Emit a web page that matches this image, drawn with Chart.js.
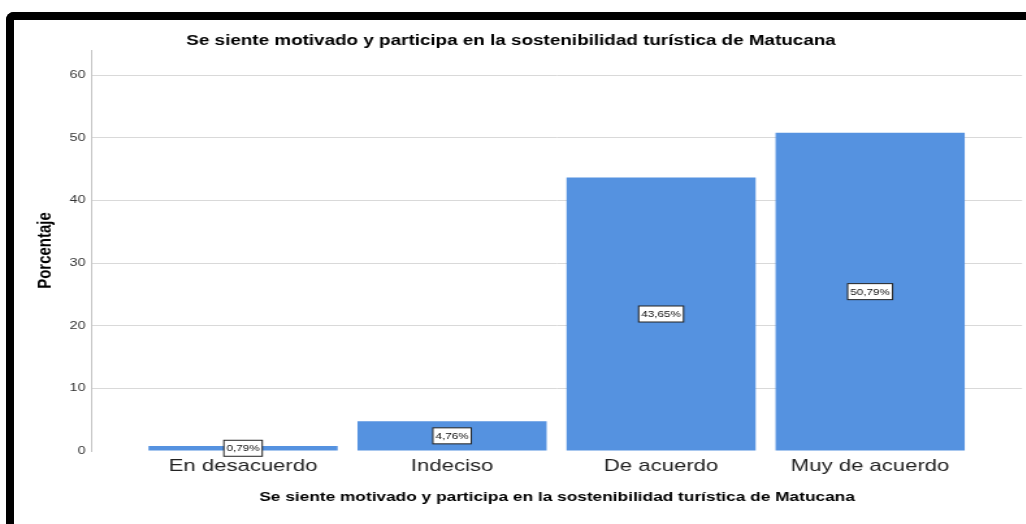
<!DOCTYPE html>
<html>
<head>
<meta charset="utf-8">
<script src="https://cdn.jsdelivr.net/npm/chart.js@4.4.1/dist/chart.umd.min.js"></script>
<style>
  html, body { margin: 0; padding: 0; background: #fff; overflow: hidden; }
  #marco {
    position: absolute; left: 6px; top: 12px; width: 1100px; height: 600px;
    border-left: 8px solid #000; border-top: 8px solid #000;
    border-top-left-radius: 8px;
  }
  /* el grafico original esta estirado en horizontal */
  #wrap {
    position: absolute; left: 0; top: 0; width: 789.23px; height: 524px;
    transform: scaleX(1.3); transform-origin: 0 0;
  }
</style>
</head>
<body>
<div id="marco"></div>
<div id="wrap"><canvas id="grafico"></canvas></div>
<script>
const categorias = ['En desacuerdo', 'Indeciso', 'De acuerdo', 'Muy de acuerdo'];
const porcentajes = [0.79, 4.76, 43.65, 50.79];
const ticksY = [0, 10, 20, 30, 40, 50, 60];
const titulo = 'Se siente motivado y participa en la sostenibilidad turística de Matucana';

const fuente = 'Liberation Sans, Arial, sans-serif';

const etiquetasBarras = {
    id: 'etiquetasBarras',
    afterDatasetsDraw(chart) {
        const ctx = chart.ctx;
        const meta = chart.getDatasetMeta(0);
        ctx.save();
        ctx.font = '9px ' + fuente;
        ctx.textAlign = 'center';
        ctx.textBaseline = 'middle';
        meta.data.forEach((bar, i) => {
            const p = bar.getProps(['x', 'y', 'base'], true);
            const cy = (p.y + p.base) / 2;
            const txt = porcentajes[i].toFixed(2).replace('.', ',') + '%';
            const w = ctx.measureText(txt).width + 4;
            const h = 16;
            ctx.fillStyle = '#fff';
            ctx.fillRect(p.x - w / 2, cy - h / 2, w, h);
            ctx.strokeStyle = '#222';
            ctx.lineWidth = 1;
            ctx.strokeRect(p.x - w / 2, cy - h / 2, w, h);
            ctx.fillStyle = '#111';
            ctx.fillText(txt, p.x, cy + 0.5);
        });
        ctx.restore();
    }
};

new Chart(document.getElementById('grafico'), {
    type: 'bar',
    data: {
        datasets: [{
            data: porcentajes.map((v, i) => ({ x: i, y: v })),
            backgroundColor: '#5592e0',
            borderWidth: 0,
            barPercentage: 0.905,
            categoryPercentage: 1
        }]
    },
    options: {
        responsive: true,
        maintainAspectRatio: false,
        animation: false,
        layout: { padding: { left: 0, right: 3, top: 0, bottom: 0 } },
        plugins: {
            legend: { display: false },
            tooltip: { enabled: false },
            title: {
                display: true,
                text: titulo,
                color: '#000',
                font: { family: fuente, size: 14.5, weight: 'bold' },
                padding: { top: 32, bottom: 0.6 }
            }
        },
        scales: {
            x: {
                type: 'linear',
                offset: false,
                min: -0.7225,
                max: 3.727,
                afterBuildTicks: s => { s.ticks = categorias.map((c, i) => ({ value: i })); },
                afterFit: s => { s.height = 73; },
                grid: { display: false, drawTicks: false, offset: false },
                border: { display: false },
                ticks: {
                    padding: 5,
                    color: '#222',
                    font: { family: fuente, size: 17 },
                    callback: v => categorias[v]
                },
                title: {
                    display: true,
                    text: titulo,
                    color: '#000',
                    font: { family: fuente, size: 13.3, weight: 'bold' },
                    padding: { top: 0, bottom: 19 }
                }
            },
            y: {
                min: 0,
                max: 64,
                afterBuildTicks: s => { s.ticks = ticksY.map(v => ({ value: v })); },
                afterFit: s => { s.width = 70.8; },
                grid: {
                    drawTicks: false,
                    color: c => (c.tick && c.tick.value === 0) ? 'rgba(0,0,0,0)' : '#d9d9d9'
                },
                border: { display: true, color: '#c4c4c4' },
                ticks: {
                    padding: 5,
                    color: '#333',
                    font: { family: fuente, size: 11 }
                },
                title: {
                    display: true,
                    text: 'Porcentaje',
                    color: '#000',
                    font: { family: fuente, size: 15, weight: 'bold' },
                    padding: { top: 26, bottom: 0 }
                }
            }
        }
    },
    plugins: [etiquetasBarras]
});
</script>
</body>
</html>
